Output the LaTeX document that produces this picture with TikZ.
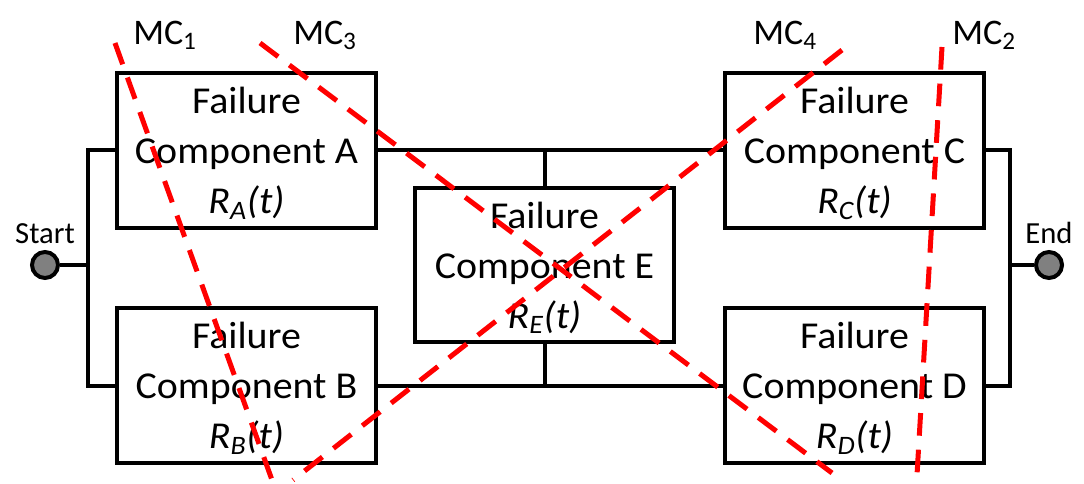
\documentclass[tikz,border=0pt]{standalone}
\usepackage{fontspec}
\setmainfont{Carlito}
\newfontfamily\boxfont[FakeStretch=1.05]{Carlito}
\usetikzlibrary{positioning}

\begin{document}
\begin{tikzpicture}[x=0.75pt,y=-0.75pt,line join=miter,
  wire/.style={line width=3pt},
  failbox/.style={draw,line width=3pt,minimum width=194pt,minimum height=116pt,inner sep=0pt,align=center,font=\boxfont\fontsize{28.5}{37.5}\selectfont},
  terminal/.style={circle,draw,line width=3pt,fill=gray,minimum size=19.5pt,inner sep=0pt},
  termlabel/.style={font=\fontsize{23}{26}\selectfont},
  cutline/.style={red,line width=3.75pt,dash pattern=on 17pt off 10.5pt},
  cutlabel/.style={anchor=base west,inner sep=0pt,font=\fontsize{27}{30}\selectfont}]
  \useasboundingbox (0,0) rectangle (1084,484);
%%
  % Node: failure components
  \node[failbox] (compA) at (246.5,150.5) {\rule{0pt}{24pt}Failure\\Component A\\\textit{R\textsubscript{A}(t)}};
  \node[failbox] (compB) at (246.5,385.5) {\rule{0pt}{24pt}Failure\\Component B\\\textit{R\textsubscript{B}(t)}};
  \node[failbox] (compC) at (854.5,150.5) {\rule{0pt}{24pt}Failure\\Component C\\\textit{R\textsubscript{C}(t)}};
  \node[failbox] (compD) at (854.5,385.5) {\rule{0pt}{24pt}Failure\\Component D\\\textit{R\textsubscript{D}(t)}};
  \node[failbox] (compE) at (544.5,265) {\rule{0pt}{24pt}Failure\\Component E\\\textit{R\textsubscript{E}(t)}};
  % Node: start and end
  \node[terminal,label={[termlabel,label distance=1pt]above:Start}] (start) at (45,265) {};
  \node[terminal,label={[termlabel,label distance=1pt]above:End}] (end) at (1049,265) {};
  \coordinate (lbus) at (88,265);
  \coordinate (rbus) at (1010,265);
%%
  % Edge: start -> A, B
  \draw[wire] (start) -- (lbus);
  \draw[wire] (compA.west) -| (lbus) |- (compB.west);
  % Edge: C, D -> end
  \draw[wire] (end) -- (rbus);
  \draw[wire] (compC.east) -| (rbus) |- (compD.east);
  % Edge: A -> C, B -> D
  \draw[wire] (compA.east) -- (compC.west);
  \draw[wire] (compB.east) -- (compD.west);
  % Edge: bridge E
  \draw[wire] (compE.north) -- (compE.north |- compA.east);
  \draw[wire] (compE.south) -- (compE.south |- compB.east);
%%
  % Minimal cuts
  \coordinate (mc1a) at (115,43);  \coordinate (mc1b) at (272,480);
  \coordinate (mc2a) at (942,47);  \coordinate (mc2b) at (917,475);
  \coordinate (mc3a) at (260,43);  \coordinate (mc3b) at (832,473);
  \coordinate (mc4a) at (842,50);  \coordinate (mc4b) at (293,480);
  \draw[cutline] (mc1a) -- (mc1b);
  \draw[cutline] (mc2a) -- (mc2b);
  \draw[cutline] (mc3a) -- (mc3b);
  \draw[cutline] (mc4a) -- (mc4b);
  \node[cutlabel] (mc1) at (133,45) {MC\textsubscript{1}};
  \node[cutlabel] (mc3) at (293,45) {MC\textsubscript{3}};
  \node[cutlabel] (mc4) at (753,45) {MC\textsubscript{4}};
  \node[cutlabel] (mc2) at (952,45) {MC\textsubscript{2}};
%
\end{tikzpicture}
\end{document}
